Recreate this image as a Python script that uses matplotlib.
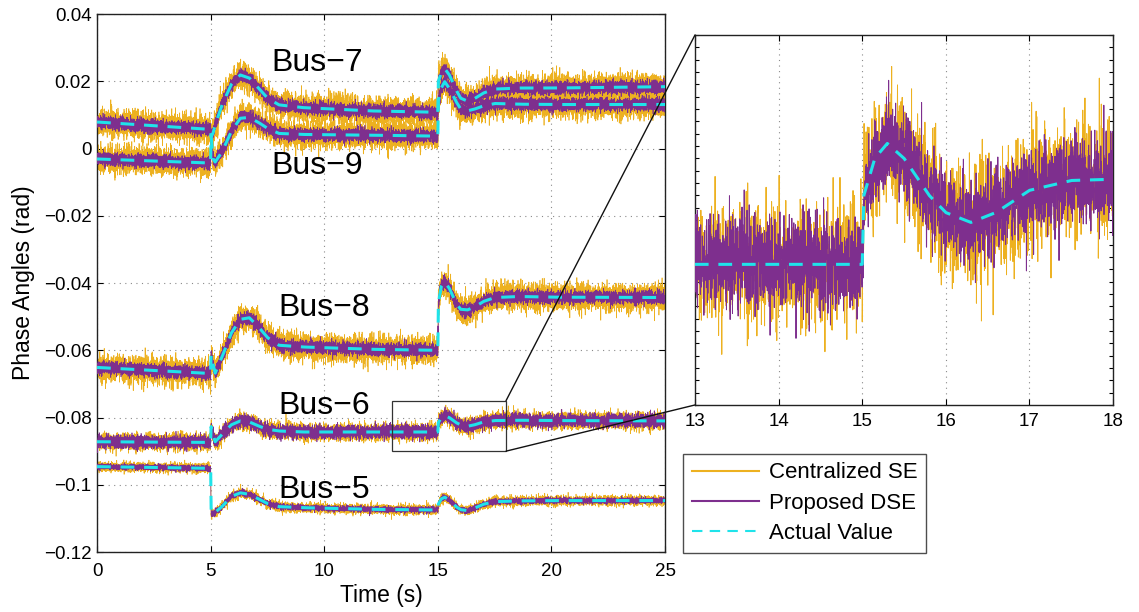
import numpy as np
import matplotlib
matplotlib.use("Agg")
import matplotlib.pyplot as plt
from matplotlib.patches import Rectangle, ConnectionPatch
from matplotlib.lines import Line2D
from matplotlib.ticker import FixedLocator, FixedFormatter

plt.rcParams['font.family'] = ['Liberation Sans', 'DejaVu Sans']

# Time instants at which the true phase-angle trajectories are specified (s)
t_key = [0, 5.0, 5.02, 5.1, 5.2, 5.5, 5.9, 6.3, 6.7, 7.1, 7.5, 8.0, 9.0, 12.0,
         15.0, 15.02, 15.15, 15.3, 15.5, 15.8, 16.0, 16.3, 16.6, 17.0, 17.5,
         18.5, 20.0, 25.0]

# True phase angles (rad) of each bus at those instants
bus7 = [0.0079, 0.0057, 0.0035, 0.0045, 0.0070, 0.0130, 0.0190, 0.0219, 0.0210,
        0.0180, 0.0150, 0.0130, 0.0122, 0.0112, 0.0108, 0.0200, 0.0225, 0.0238,
        0.0220, 0.0175, 0.0150, 0.0141, 0.0148, 0.0165, 0.0177, 0.0180, 0.0180,
        0.0184]
bus9 = [-0.0031, -0.0043, 0.0040, -0.0030, -0.0040, -0.0010, 0.0050, 0.0090,
        0.0093, 0.0078, 0.0060, 0.0045, 0.0042, 0.0040, 0.0037, 0.0140, 0.0180,
        0.0199, 0.0180, 0.0140, 0.0118, 0.0112, 0.0117, 0.0127, 0.0134, 0.0132,
        0.0131, 0.0131]
bus8 = [-0.0651, -0.0669, -0.0614, -0.0640, -0.0668, -0.0620, -0.0550, -0.0508,
        -0.0503, -0.0530, -0.0562, -0.0585, -0.0590, -0.0597, -0.0600, -0.0460,
        -0.0410, -0.0396, -0.0415, -0.0460, -0.0478, -0.0480, -0.0472, -0.0455,
        -0.0443, -0.0440, -0.0442, -0.0443]
bus6 = [-0.0872, -0.0874, -0.0827, -0.0850, -0.0872, -0.0850, -0.0822, -0.0810,
        -0.0813, -0.0825, -0.0835, -0.0840, -0.0843, -0.0843, -0.0843, -0.0815,
        -0.0800, -0.0794, -0.0800, -0.0815, -0.0822, -0.0826, -0.0822, -0.0813,
        -0.0809, -0.0808, -0.0809, -0.0810]
bus5 = [-0.0946, -0.0951, -0.1085, -0.1085, -0.1082, -0.1065, -0.1035, -0.1024,
        -0.1028, -0.1042, -0.1056, -0.1065, -0.1068, -0.1073, -0.1075, -0.1058,
        -0.1042, -0.1037, -0.1045, -0.1065, -0.1074, -0.1077, -0.1070, -0.1058,
        -0.1050, -0.1048, -0.1047, -0.1047]

bus_names = ["Bus\u22127", "Bus\u22129", "Bus\u22128", "Bus\u22126", "Bus\u22125"]
bus_true = [bus7, bus9, bus8, bus6, bus5]
# Estimation error spread (rad) of the centralized and distributed estimators
err_central = [0.0019, 0.0019, 0.0019, 0.0012, 0.0007]
err_dist = [0.0009, 0.0009, 0.0009, 0.0009, 0.0004]
# Label anchor points (s, rad)
label_x = [9.7, 9.7, 10.0, 10.0, 10.0]
label_y = [0.0254, -0.0052, -0.0474, -0.0766, -0.1016]

y_ticks = [-0.12, -0.1, -0.08, -0.06, -0.04, -0.02, 0, 0.02, 0.04]
y_ticklabels = ["\u22120.12", "\u22120.1", "\u22120.08", "\u22120.06", "\u22120.04",
                "\u22120.02", "0", "0.02", "0.04"]
x_ticks = [0, 5, 10, 15, 20, 25]
inset_x_ticks = [13, 14, 15, 16, 17, 18]

C_CEN = '#EDB120'
C_DSE = '#7E2F8E'
C_ACT = '#1fe3ea'

# Sampled estimator outputs at 500 Hz
t = np.arange(0, 25.0001, 0.002)
rng = np.random.default_rng(11)
actual = [np.interp(t, t_key, b) for b in bus_true]
central = [a + rng.normal(0, s, t.size) for a, s in zip(actual, err_central)]
distributed = [a + rng.normal(0, s, t.size) for a, s in zip(actual, err_dist)]

fig = plt.figure(figsize=(11.39, 6.12), dpi=100)
ax = fig.add_axes([0.0852, 0.098, 0.4987, 0.879])
axin = fig.add_axes([0.6102, 0.3383, 0.3670, 0.6046])


def draw_series(a, lw_noise):
    for c in central:
        a.plot(t, c, color=C_CEN, lw=lw_noise, zorder=2)
    for d in distributed:
        a.plot(t, d, color=C_DSE, lw=lw_noise, zorder=3)
    for act in actual:
        a.plot(t, act, color=C_ACT, lw=2.2, dashes=(4.5, 3.2), zorder=4)


def style_axes(a):
    a.tick_params(direction='in', length=4, width=0.8, labelsize=13.5,
                  top=True, right=True)
    a.tick_params(axis='x', pad=8)
    a.tick_params(axis='y', pad=4)
    for s in a.spines.values():
        s.set_linewidth(1.0)
        s.set_color('#222222')


draw_series(ax, 0.5)
ax.set_xlim(0, 25)
ax.set_ylim(-0.12, 0.04)
ax.xaxis.set_major_locator(FixedLocator(x_ticks))
ax.yaxis.set_major_locator(FixedLocator(y_ticks))
ax.yaxis.set_major_formatter(FixedFormatter(y_ticklabels))
ax.grid(True, linestyle=(0, (1, 4)), color='#8a8a8a', lw=0.8)
style_axes(ax)
ax.set_xlabel("Time (s)", fontsize=16.5, labelpad=3)
ax.set_ylabel("Phase Angles (rad)", fontsize=16.5, labelpad=6)

for name, lx, ly in zip(bus_names, label_x, label_y):
    ax.text(lx, ly, name, fontsize=23, ha='center', va='center', zorder=6)

# Zoomed window around the second disturbance on Bus-6
zx0, zx1, zy0, zy1 = 13, 18, -0.090, -0.075
ax.add_patch(Rectangle((zx0, zy0), zx1 - zx0, zy1 - zy0, fill=False,
                       edgecolor='#333333', lw=0.9, zorder=7))

draw_series(axin, 0.7)
axin.set_xlim(zx0, zx1)
axin.set_ylim(zy0, zy1)
axin.xaxis.set_major_locator(FixedLocator(inset_x_ticks))
axin.yaxis.set_major_locator(FixedLocator(np.arange(-0.0900, -0.0749, 0.0005)))
axin.set_yticklabels([])
axin.grid(True, axis='x', linestyle=(0, (1, 4)), color='#8a8a8a', lw=0.8)
style_axes(axin)
axin.tick_params(axis='x', pad=6)
axin.tick_params(axis='y', length=3)

for (xa, ya), (xb, yb) in [((zx1, zy1), (0, 1)), ((zx1, zy0), (0, 0))]:
    con = ConnectionPatch(xyA=(xa, ya), coordsA='data', axesA=ax,
                          xyB=(xb, yb), coordsB='axes fraction', axesB=axin,
                          color='#111111', lw=1.0, zorder=8)
    fig.add_artist(con)

handles = [Line2D([], [], color=C_CEN, lw=1.5),
           Line2D([], [], color=C_DSE, lw=1.5),
           Line2D([], [], color=C_ACT, lw=1.5, dashes=(5, 3.5))]
leg = fig.legend(handles, ["Centralized SE", "Proposed DSE", "Actual Value"],
                 loc='lower left', bbox_to_anchor=(0.5997, 0.0964),
                 fontsize=16, frameon=True, fancybox=False, edgecolor='#222222',
                 handlelength=3.0, handletextpad=0.45, borderpad=0.4,
                 labelspacing=0.42, borderaxespad=0)
leg.get_frame().set_linewidth(1.0)

fig.savefig("out.png", dpi=100)
